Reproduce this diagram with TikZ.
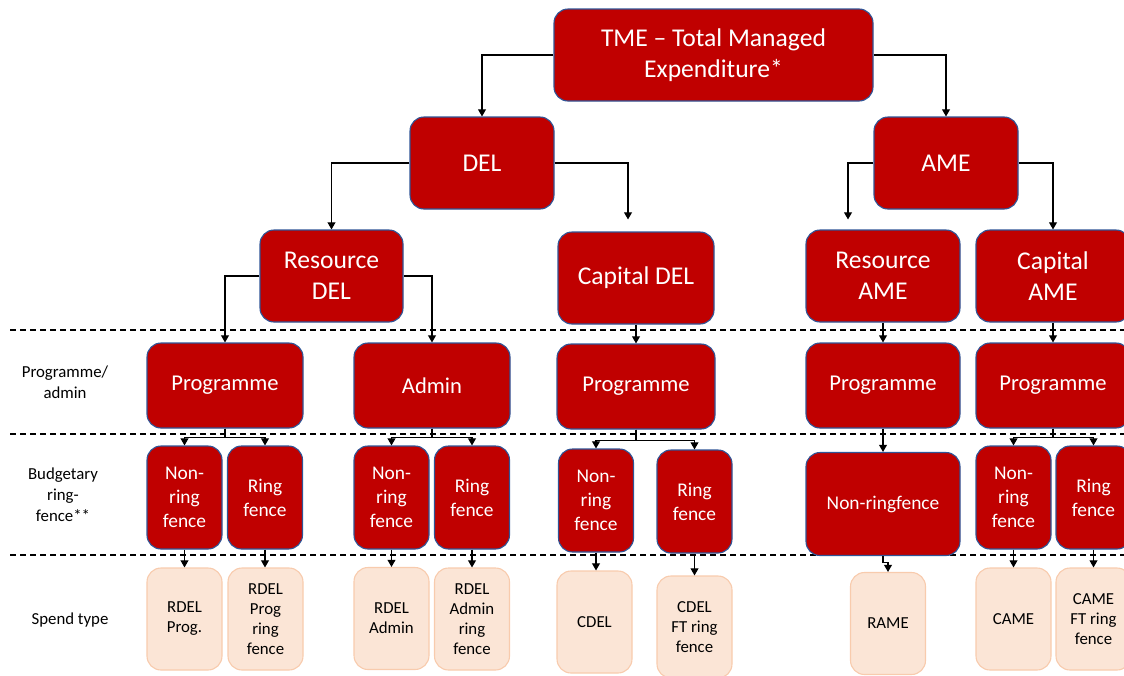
\documentclass[tikz,border=0pt]{standalone}
\usepackage{fontspec}
\setmainfont{Carlito}
\usetikzlibrary{arrows.meta,calc,positioning}
\definecolor{darkred}{HTML}{C00000}
\definecolor{boxline}{HTML}{2F5597}
\definecolor{peach}{HTML}{FBE5D6}
\definecolor{peachline}{HTML}{F8CBAD}

\begin{document}
\begin{tikzpicture}[x=0.5pt,y=-0.5pt,>={Triangle[length=3.6pt,width=4pt]},line width=0.55pt,align=center,
		redbox/.style={draw=boxline,fill=darkred,text=white,rounded corners=7pt,inner sep=0pt},
		bigbox/.style={redbox,minimum height=46pt,font=\fontsize{12.8}{15.5}\selectfont},
		progbox/.style={redbox,minimum width=78pt,minimum height=42.5pt,font=\fontsize{11.3}{13.8}\selectfont},
		fencebox/.style={redbox,minimum width=37.5pt,minimum height=51.5pt,font=\fontsize{9.7}{12}\selectfont},
		spendbox/.style={draw=peachline,fill=peach,text=black,rounded corners=7pt,inner sep=0pt,
			minimum width=37.5pt,minimum height=51pt,font=\fontsize{8.4}{10}\selectfont},
		rowlabel/.style={font=\fontsize{8.4}{10.5}\selectfont},
		divider/.style={dashed,dash pattern=on 3pt off 2pt,line width=0.6pt}]
		\useasboundingbox (0,0) rectangle (1124,675);
		\clip (0,0) rectangle (1124,675);
		% row dividers
		\draw[divider] (10,330) -- (1124,330);
		\draw[divider] (10,434) -- (1124,434);
		\draw[divider] (10,555) -- (1124,555);
		% row labels
		\node[rowlabel] (lab_prog) at (65,382) {Programme/\\admin};
		\node[rowlabel] (lab_fence) at (63,495) {Budgetary\\ring-\\fence**};
		\node[rowlabel] (lab_spend) at (70,620) {Spend type};
		% top levels
		\node[bigbox,minimum width=159.5pt] (tme) at (713.5,55) {TME -- Total Managed\\Expenditure*};
		\node[bigbox,minimum width=72pt] (del) at (482,163) {DEL};
		\node[bigbox,minimum width=72pt] (ame) at (946,163) {AME};
		\node[bigbox,minimum width=71.5pt] (rdel) at (331.5,276) {Resource\\DEL};
		\node[bigbox,minimum width=78pt] (cdel) at (636,278) {Capital DEL};
		\node[bigbox,minimum width=77pt] (rame) at (883,276) {Resource\\AME};
		\node[bigbox,minimum width=77pt] (came) at (1053,276) {Capital\\AME};
		% programme / admin
		\node[progbox] (rdel_prog) at (225,385.5) {Programme};
		\node[progbox] (rdel_admin) at (432,385.5) {Admin};
		\node[progbox,minimum width=79pt] (cdel_prog) at (636,386.5) {Programme};
		\node[progbox,minimum width=77pt] (rame_prog) at (883,385.5) {Programme};
		\node[progbox,minimum width=77pt] (came_prog) at (1053,385.5) {Programme};
		% ring-fence
		\node[fencebox] (rp_nrf) at (184.5,497.5) {Non-\\ring\\fence};
		\node[fencebox] (rp_rf) at (265,497.5) {Ring\\fence};
		\node[fencebox] (ra_nrf) at (391.5,497.5) {Non-\\ring\\fence};
		\node[fencebox] (ra_rf) at (472,497.5) {Ring\\fence};
		\node[fencebox] (cd_nrf) at (596,500.5) {Non-\\ring\\fence};
		\node[fencebox] (cd_rf) at (694.5,501.5) {Ring\\fence};
		\node[fencebox,minimum width=77pt] (ra_nrf2) at (883,504) {Non-ringfence};
		\node[fencebox] (ca_nrf) at (1013.5,497.5) {Non-\\ring\\fence};
		\node[fencebox] (ca_rf) at (1093.5,497.5) {Ring\\fence};
		% spend type
		\node[spendbox] (s_rprog) at (184.5,619) {RDEL\\Prog.};
		\node[spendbox] (s_rprogrf) at (265.5,619) {RDEL\\Prog\\ring\\fence};
		\node[spendbox] (s_radmin) at (391.5,618.5) {RDEL\\Admin};
		\node[spendbox] (s_radminrf) at (472,619) {RDEL\\Admin\\ring\\fence};
		\node[spendbox] (s_cdel) at (594.5,622) {CDEL};
		\node[spendbox] (s_cdelrf) at (694.5,627) {CDEL\\FT ring\\fence};
		\node[spendbox] (s_rame) at (888,623.5) {RAME};
		\node[spendbox] (s_came) at (1013.5,619) {CAME};
		\node[spendbox] (s_camerf) at (1093.5,619) {CAME\\FT ring\\fence};
		% connectors
		\draw[->] (tme.west) -| (del.north);
		\draw[->] (tme.east) -| (ame.north);
		\draw[->] (del.west) -| (rdel.north);
		\draw[->] (del.east) -| ([xshift=-4pt,yshift=6pt]cdel.north);
		\draw[->] (ame.west) -| ([xshift=-17.5pt,yshift=5pt]rame.north);
		\draw[->] (ame.east) -| (came.north);
		\draw[->] (rdel.west) -| (rdel_prog.north);
		\draw[->] (rdel.east) -| (rdel_admin.north);
		\draw[->] (cdel) -- (cdel_prog);
		\draw[->] (rame) -- (rame_prog);
		\draw[->] (came) -- (came_prog);
		\foreach \p/\a/\b/\d in {rdel_prog/rp_nrf/rp_rf/9,rdel_admin/ra_nrf/ra_rf/9,
				cdel_prog/cd_nrf/cd_rf/11,came_prog/ca_nrf/ca_rf/9}{
			\draw[->] (\p.south) -- ++(0,\d) -| (\a.north);
			\draw[->] (\p.south) -- ++(0,\d) -| (\b.north);
		}
		\draw[->] (rame_prog) -- (ra_nrf2);
		\foreach \a/\b in {rp_nrf/s_rprog,rp_rf/s_rprogrf,ra_nrf/s_radmin,ra_rf/s_radminrf,
				cd_nrf/s_cdel,cd_rf/s_cdelrf,ca_nrf/s_came,ca_rf/s_camerf}
			\draw[->] (\a.south) -- (\a.south |- \b.north);
		\draw[->] (ra_nrf2.south) -- ++(0,6) -| (s_rame.north);
\end{tikzpicture}
\end{document}
